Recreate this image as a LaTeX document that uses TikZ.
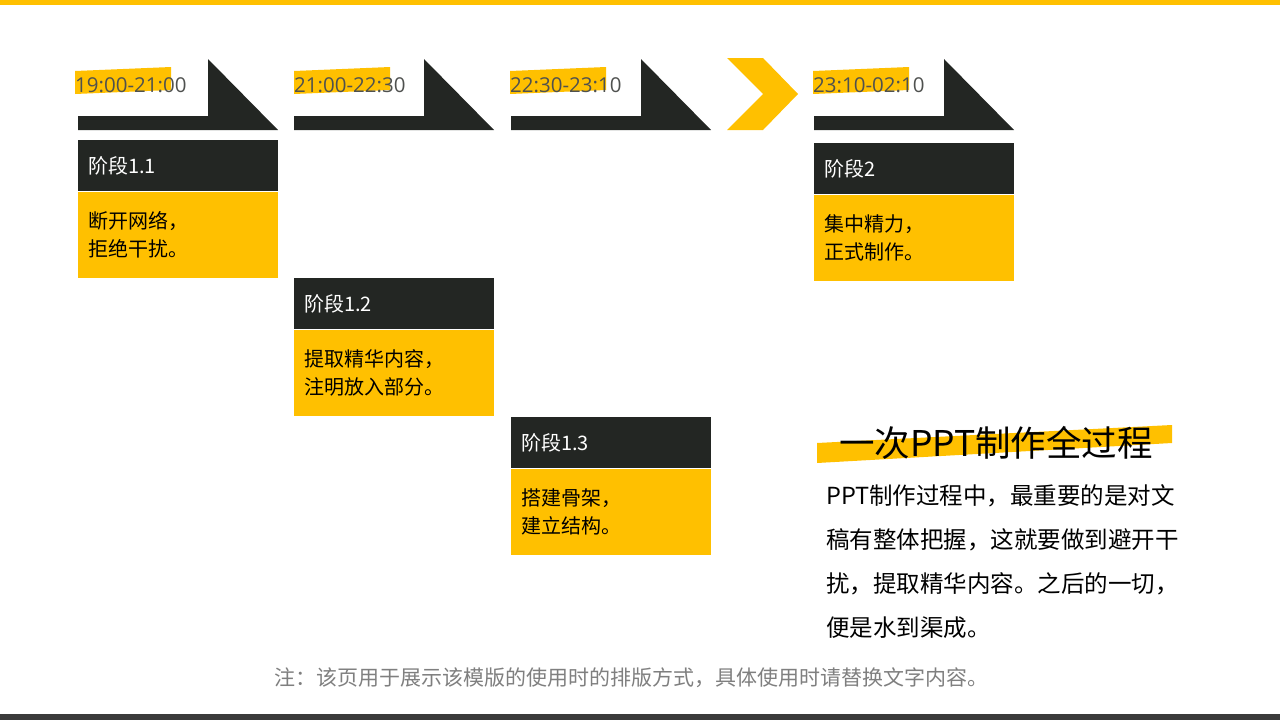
\documentclass[tikz,border=0pt]{standalone}
\usepackage{fontspec}
\setmainfont{Open Sans}
\newfontfamily\cjk{Noto Sans CJK SC}
\usetikzlibrary{positioning}
\definecolor{gold}{HTML}{FFC000}
\definecolor{ink}{HTML}{232623}
\definecolor{footgrey}{HTML}{7F7F7F}
\begin{document}
\begin{tikzpicture}[x=1pt,y=-1pt,
  stagehead/.style={fill=ink,text=white,minimum width=200pt,minimum height=51pt,
    inner sep=0pt,text width=180pt,align=left,anchor=north west,
    font=\cjk\fontsize{20}{26}\selectfont},
  stagebody/.style={fill=gold,text=black,minimum width=200pt,minimum height=86pt,
    inner sep=0pt,text width=180pt,align=left,
    font=\cjk\fontsize{20}{28}\selectfont},
  timelabel/.style={anchor=west,inner sep=0pt,text=ink!80,
    font=\fontsize{20.5}{24}\selectfont}]
  \useasboundingbox (0,0) rectangle (1280,720);
  % top and bottom bars
  \fill[gold] (0,0) rectangle (1280,5);
  \fill[black!77] (0,714) rectangle (1280,720);
  % time headers
  \foreach \x/\s/\t in {78/-3/19:00-21:00,294/0/21:00-22:30,511/-1/22:30-23:10,814/-1/23:10-02:10}
  {
    \fill[gold] (\x+\s,71) -- (\x+\s+96,67) -- (\x+\s+96,90) -- (\x+\s,94) -- cycle;
    \node[timelabel] (time\x) at (\x+\s,85) {\t};
    \fill[ink] (\x,116) -- (\x+130,116) -- (\x+130,59) -- (\x+200,130) -- (\x,130) -- cycle;
  }
  % chevron
  \fill[gold] (727,58) -- (763,58) -- (798,94) -- (763,130) -- (727,130) -- (763,94) -- cycle;
  % stages
  \node[stagehead] (head11) at (78,140) {阶段1.1};
  \node[stagebody,below=0pt of head11] (body11) {断开网络，\\拒绝干扰。};
  \node[stagehead] (head12) at (294,278) {阶段1.2};
  \node[stagebody,below=0pt of head12] (body12) {提取精华内容，\\注明放入部分。};
  \node[stagehead] (head13) at (511,417) {阶段1.3};
  \node[stagebody,below=0pt of head13] (body13) {搭建骨架，\\建立结构。};
  \node[stagehead] (head2) at (814,143) {阶段2};
  \node[stagebody,below=0pt of head2] (body2) {集中精力，\\正式制作。};
  % summary
  \fill[gold] (817,443) -- (1172,425) -- (1172,443) -- (817,463) -- cycle;
  \node[anchor=west,inner sep=0pt,font=\cjk\fontsize{35.5}{40}\selectfont] (title) at (839,443) {一次PPT制作全过程};
  \node[anchor=north west,inner sep=0pt,align=left,font=\cjk\fontsize{23.5}{44}\selectfont]
    (summary) at (826,484) {PPT制作过程中，最重要的是对文\\稿有整体把握，这就要做到避开干\\扰，提取精华内容。之后的一切，\\便是水到渠成。};
  \node[inner sep=0pt,text=footgrey,font=\cjk\fontsize{21}{24}\selectfont] (note) at (631,678)
    {注：该页用于展示该模版的使用时的排版方式，具体使用时请替换文字内容。};
\end{tikzpicture}
\end{document}
